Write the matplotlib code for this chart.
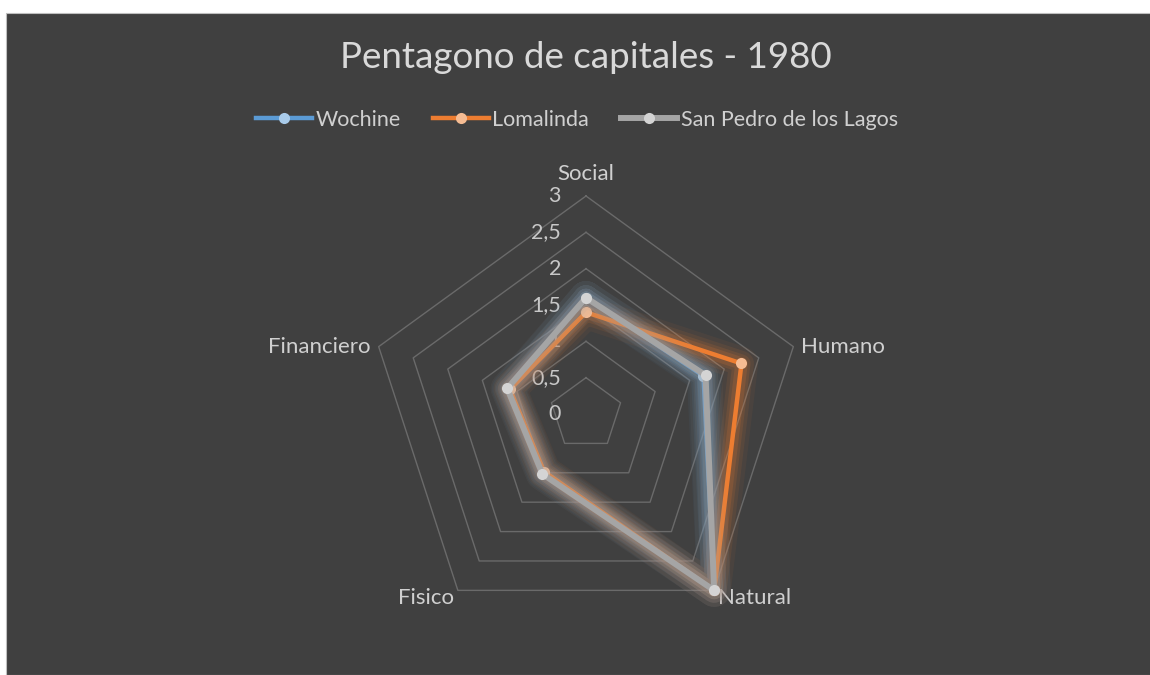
import numpy as np
import matplotlib.pyplot as plt
from matplotlib.lines import Line2D
from matplotlib.patches import Rectangle

plt.rcParams['font.family'] = ['Lato', 'DejaVu Sans']

categorias = ['Social', 'Humano', 'Natural', 'Fisico', 'Financiero']
series = ['Wochine', 'Lomalinda', 'San Pedro de los Lagos']
wochine = [1.6, 1.7, 3.0, 1.0, 1.12]
lomalinda = [1.4, 2.25, 3.0, 0.98, 1.1]
san_pedro = [1.6, 1.73, 3.0, 1.02, 1.14]
niveles = [0, 0.5, 1, 1.5, 2, 2.5, 3]
etiquetas_niveles = ['0', '0,5', '1', '1,5', '2', '2,5', '3']

colores = ['#5B9BD5', '#ED7D31', '#A5A5A5']
marcadores = ['#A9CBEA', '#F6BC93', '#D4D4D4']
anchos = [3.2, 3.2, 4.3]

W, H = 1150, 675
cx, cy = 586, 414          # centro en pixeles (desde arriba)
escala = 218 / 3.0         # pixeles por unidad

fig = plt.figure(figsize=(W / 100, H / 100), dpi=100, facecolor='white')
fig.patches.append(Rectangle((6 / W, 0), 1, (H - 13) / H, transform=fig.transFigure,
                             facecolor='#404040', edgecolor='#bfbfbf', lw=0.8, zorder=-10))
ax = fig.add_axes([0, 0, 1, 1])
ax.set_zorder(1)
ax.set_xlim(-cx / escala, (W - cx) / escala)
ax.set_ylim(-(H - cy) / escala, cy / escala)
ax.set_aspect('equal')
ax.axis('off')
ax.patch.set_alpha(0)

angulos = np.deg2rad(90 - 72 * np.arange(len(categorias)))


def xy(valores):
    v = np.asarray(valores, dtype=float)
    x = v * np.cos(angulos)
    y = v * np.sin(angulos)
    return np.append(x, x[0]), np.append(y, y[0])


# rejilla
for n in niveles[1:]:
    gx, gy = xy([n] * len(categorias))
    ax.plot(gx, gy, color='#6a6a6a', lw=1.0, zorder=1)

# etiquetas del eje
for n, t in zip(niveles, etiquetas_niveles):
    ax.text(-25 / escala, n, t, ha='right', va='center', fontsize=15.5,
            color='#c8c8c8', zorder=2)

# etiquetas de categorias
pos = [('center', 'bottom'), ('left', 'center'), ('left', 'center'),
       ('right', 'center'), ('right', 'center')]
offs = [(0, 12), (8, 0), (4, -8), (-4, -8), (-8, 0)]
for c, a, (ha, va), (ox, oy) in zip(categorias, angulos, pos, offs):
    ax.text(3.0 * np.cos(a) + ox / escala, 3.0 * np.sin(a) + oy / escala, c,
            ha=ha, va=va, fontsize=16, color='#d0d0d0', zorder=2)

# series con brillo
for i, vals in enumerate([wochine, lomalinda, san_pedro]):
    sx, sy = xy(vals)
    for lw, al in [(24, 0.06), (18, 0.09), (13, 0.12), (9, 0.16)]:
        ax.plot(sx, sy, color=colores[i], lw=lw, alpha=al, solid_joinstyle='round',
                solid_capstyle='round', zorder=3 + i * 2)
    ax.plot(sx, sy, color=colores[i], lw=anchos[i], solid_joinstyle='round',
            zorder=4 + i * 2)
    ax.plot(sx[:-1], sy[:-1], 'o', ms=8, color=marcadores[i], mec='none',
            zorder=4 + i * 2)

ax.text(0, (cy - 57) / escala, 'Pentagono de capitales - 1980', ha='center', va='center',
        fontsize=26.5, color='#d9d9d9')

handles = [Line2D([], [], color=colores[i], lw=anchos[i], marker='o', ms=8,
                  mfc=marcadores[i], mec='none') for i in range(3)]
leg = fig.legend(handles, series, loc='center', bbox_to_anchor=(577 / W, 1 - 120 / H),
                 ncol=3, frameon=False, fontsize=15.5, handlelength=2.6,
                 handletextpad=0.15, columnspacing=1.5, labelcolor='#d0d0d0')

fig.savefig('out.png', dpi=100, facecolor=fig.get_facecolor())
